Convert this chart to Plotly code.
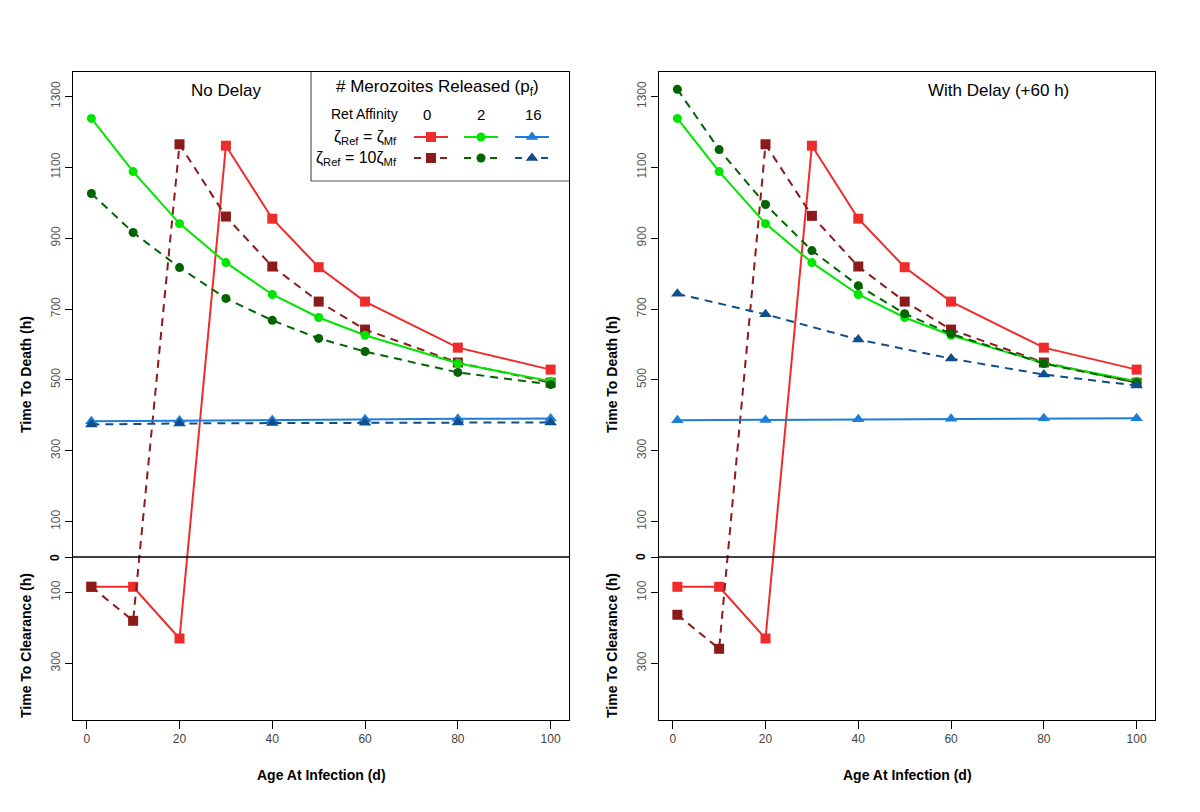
import plotly.graph_objects as go

# ---------------- data ----------------
ages_full = [1, 10, 20, 30, 40, 50, 60, 80, 100]
ages_blue = [1, 20, 40, 60, 80, 100]

# No Delay panel (negative = time to clearance)
red_solid_nd = [-84, -84, -230, 1161, 955, 818, 721, 591, 529]
red_dash_nd = [-84, -180, 1165, 961, 820, 721, 642, 549, 492]
green_solid_nd = [1238, 1088, 941, 831, 741, 676, 626, 547, 496]
green_dash_nd = [1026, 916, 817, 730, 668, 617, 580, 521, 487]
blue_solid_nd = [383, 385, 387, 389, 390, 391]
blue_dash_nd = [374, 377, 378, 379, 380, 380]

# With Delay (+60 h) panel
red_solid_wd = [-84, -84, -230, 1161, 955, 818, 721, 591, 529]
red_dash_wd = [-163, -259, 1165, 963, 820, 721, 642, 549, 492]
green_solid_wd = [1238, 1088, 941, 831, 741, 676, 626, 547, 496]
green_dash_wd = [1320, 1150, 995, 865, 766, 687, 630, 546, 492]
blue_solid_wd = [386, 387, 389, 390, 392, 392]
blue_dash_wd = [743, 685, 614, 560, 515, 484]

y_tickvals = [-300, -100, 0, 100, 300, 500, 700, 900, 1100, 1300]
y_ticktext = ["300", "100", "", "100", "300", "500", "700", "900", "1100", "1300"]
x_tickvals = [0, 20, 40, 60, 80, 100]
legend_cols = ["0", "2", "16"]

# ---------------- style ----------------
RED = "#EE2C2C"
DRED = "#8B1A1A"
GREEN = "#00E600"
DGREEN = "#006400"
BLUE = "#1C7ED6"
DBLUE = "#104E8B"
FONT = "Liberation Sans"
DASH = "8px,6px"
W, H = 1200, 812

fig = go.Figure()

def add_series(xs, ys, color, symbol, size, dash, xa, ya):
    fig.add_trace(go.Scatter(
        x=xs, y=ys, mode="lines+markers", xaxis=xa, yaxis=ya,
        line=dict(color=color, width=2, dash=dash),
        marker=dict(color=color, symbol=symbol, size=size),
        showlegend=False, hoverinfo="skip"))

panels = [
    ("x", "y", red_solid_nd, red_dash_nd, green_solid_nd, green_dash_nd, blue_solid_nd, blue_dash_nd),
    ("x2", "y2", red_solid_wd, red_dash_wd, green_solid_wd, green_dash_wd, blue_solid_wd, blue_dash_wd),
]
for xa, ya, rs, rd, gs, gd, bs, bd in panels:
    add_series(ages_full, rs, RED, "square", 10, "solid", xa, ya)
    add_series(ages_full, rd, DRED, "square", 10, DASH, xa, ya)
    add_series(ages_full, gs, GREEN, "circle", 9, "solid", xa, ya)
    add_series(ages_full, gd, DGREEN, "circle", 9, DASH, xa, ya)
    add_series(ages_blue, bs, BLUE, "triangle-up", 11, "solid", xa, ya)
    add_series(ages_blue, bd, DBLUE, "triangle-up", 11, DASH, xa, ya)

# legend samples on an overlay axis in pixel units
col_centers = [431, 481, 532]
row_y = [137, 158]
styles = [
    [(RED, "square", 10), (GREEN, "circle", 9), (BLUE, "triangle-up", 11)],
    [(DRED, "square", 10), (DGREEN, "circle", 9), (DBLUE, "triangle-up", 11)],
]
for r, ry in enumerate(row_y):
    for c, cx in enumerate(col_centers):
        color, sym, sz = styles[r][c]
        fig.add_trace(go.Scatter(
            x=[cx - 17, cx + 17], y=[ry, ry], mode="lines", xaxis="x3", yaxis="y3",
            line=dict(color=color, width=2, dash="solid" if r == 0 else "7px,6px"),
            showlegend=False, hoverinfo="skip"))
        fig.add_trace(go.Scatter(
            x=[cx], y=[ry], mode="markers", xaxis="x3", yaxis="y3",
            marker=dict(color=color, symbol=sym, size=sz),
            showlegend=False, hoverinfo="skip"))

xl = [73 / W, 569 / W]
xr = [659 / W, 1155 / W]
yd = [1 - 720 / H, 1 - 72 / H]

xaxis_common = dict(range=[-2.96, 103.96], tickvals=x_tickvals, ticks="outside", ticklen=8,
                    tickcolor="black", showline=True, linecolor="black", linewidth=1, mirror=True,
                    showgrid=False, zeroline=False, tickfont=dict(family=FONT, size=12, color="#444444"))
yaxis_common = dict(range=[-460, 1369], tickvals=y_tickvals, ticktext=y_ticktext, ticks="outside",
                    ticklen=7, tickcolor="black", tickangle=-90, showline=True, linecolor="black",
                    linewidth=1, mirror=True, showgrid=False, zeroline=False,
                    tickfont=dict(family=FONT, size=12, color="#555555"))

fig.update_layout(
    width=W, height=H, margin=dict(l=0, r=0, t=0, b=0),
    paper_bgcolor="white", plot_bgcolor="rgba(0,0,0,0)",
    font=dict(family=FONT, color="black"),
    xaxis=dict(domain=xl, anchor="y", **xaxis_common),
    yaxis=dict(domain=yd, anchor="x", **yaxis_common),
    xaxis2=dict(domain=xr, anchor="y2", **xaxis_common),
    yaxis2=dict(domain=yd, anchor="x2", **yaxis_common),
    xaxis3=dict(domain=[0, 1], range=[0, W], visible=False, anchor="y3", fixedrange=True),
    yaxis3=dict(domain=[0, 1], range=[H, 0], visible=False, anchor="x3", fixedrange=True),
)

shapes = []
for xa, ya in (("x", "y"), ("x2", "y2")):
    shapes.append(dict(type="line", xref=xa + " domain", yref=ya, x0=0, x1=1, y0=0, y1=0,
                       line=dict(color="black", width=1.5)))
# legend box (left and bottom edges; top/right coincide with plot frame)
shapes.append(dict(type="line", xref="paper", yref="paper", x0=311 / W, x1=311 / W,
                   y0=1 - 181 / H, y1=1 - 72 / H, line=dict(color="#555555", width=1.2)))
shapes.append(dict(type="line", xref="paper", yref="paper", x0=311 / W, x1=569 / W,
                   y0=1 - 181 / H, y1=1 - 181 / H, line=dict(color="#555555", width=1.2)))
fig.update_layout(shapes=shapes)

def ann(x, y, text, size=14, bold=False, angle=0, color="black", xanchor="center"):
    return dict(x=x / W, y=1 - y / H, xref="paper", yref="paper", text=f"<b>{text}</b>" if bold else text,
                showarrow=False, textangle=angle, xanchor=xanchor, yanchor="middle",
                font=dict(family=FONT, size=size, color=color))

annotations = [
    ann(226, 90, "No Delay", size=17),
    ann(998, 90, "With Delay (+60 h)", size=17),
    ann(437, 88, "# Merozoites Released (p<sub>f</sub>)", size=17),
    ann(365, 114, "Ret Affinity", size=14),
    ann(427, 114, legend_cols[0], size=15),
    ann(481, 114, legend_cols[1], size=15),
    ann(533, 114, legend_cols[2], size=15),
    ann(399, 137, "ζ<sub>Ref</sub> = ζ<sub>Mf</sub>", size=16, xanchor="right"),
    ann(399, 158, "ζ<sub>Ref</sub> = 10ζ<sub>Mf</sub>", size=16, xanchor="right"),
    ann(26, 375, "Time To Death (h)", size=14, bold=True, angle=-90),
    ann(26, 646, "Time To Clearance (h)", size=14, bold=True, angle=-90),
    ann(612, 375, "Time To Death (h)", size=14, bold=True, angle=-90),
    ann(612, 646, "Time To Clearance (h)", size=14, bold=True, angle=-90),
    ann(321, 775, "Age At Infection (d)", size=14, bold=True),
    ann(907, 775, "Age At Infection (d)", size=14, bold=True),
    ann(55, 557, "0", size=12, bold=True, angle=-90),
    ann(641, 557, "0", size=12, bold=True, angle=-90),
]
fig.update_layout(annotations=annotations)

fig.write_html("out.html", config={"displayModeBar": False},
               post_script="document.body.style.margin='0';")
